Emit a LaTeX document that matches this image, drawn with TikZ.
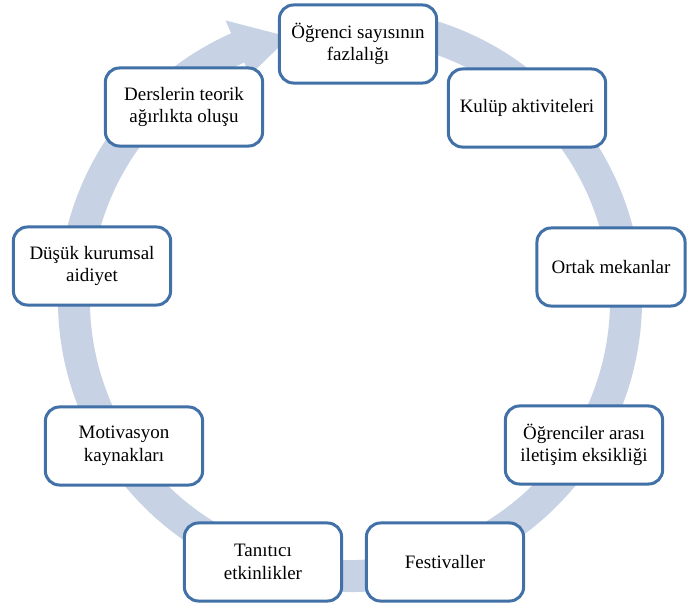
\documentclass[tikz,border=0pt]{standalone}
\usepackage{fontspec}
\setmainfont{Liberation Serif}
\usetikzlibrary{calc}
\definecolor{boxline}{RGB}{65,113,167}
\definecolor{ringfill}{RGB}{199,210,228}
\begin{document}
\begin{tikzpicture}[x=0.025cm, y=0.025cm,
        item/.style={draw=boxline, line width=0.075cm, rounded corners=0.35cm, fill=white,
            minimum width=3.93cm, minimum height=1.95cm, align=center, inner sep=2pt,
            font=\fontsize{13.5}{16}\selectfont}]
            \useasboundingbox (0,0) rectangle (688,606);

            \coordinate (c) at (350,306);
            \fill[ringfill] ($(c)+(80:292)$) arc[start angle=80, end angle=-246, radius=292]
                -- ($(c)+(114:306)$) -- ($(c)+(103:270)$) -- ($(c)+(114:246)$)
                -- ($(c)+(114:260)$) arc[start angle=114, end angle=440, radius=260] -- cycle;

            \node[item] (crowd) at (358, 562) {Öğrenci sayısının\\fazlalığı};
            \node[item] (clubs) at (527, 498) {Kulüp aktiviteleri};
            \node[item, minimum width=3.7cm] (spaces) at (611, 339) {Ortak mekanlar};
            \node[item] (comm) at (584, 161) {Öğrenciler arası\\iletişim eksikliği};
            \node[item] (fest) at (445, 44) {Festivaller};
            \node[item] (promo) at (263, 44) {Tanıtıcı\\etkinlikler};
            \node[item] (motiv) at (124, 160) {Motivasyon\\kaynakları};
            \node[item] (belong) at (92, 340) {Düşük kurumsal\\aidiyet};
            \node[item] (theory) at (184, 499) {Derslerin teorik\\ağırlıkta oluşu};
        \end{tikzpicture}
\end{document}
